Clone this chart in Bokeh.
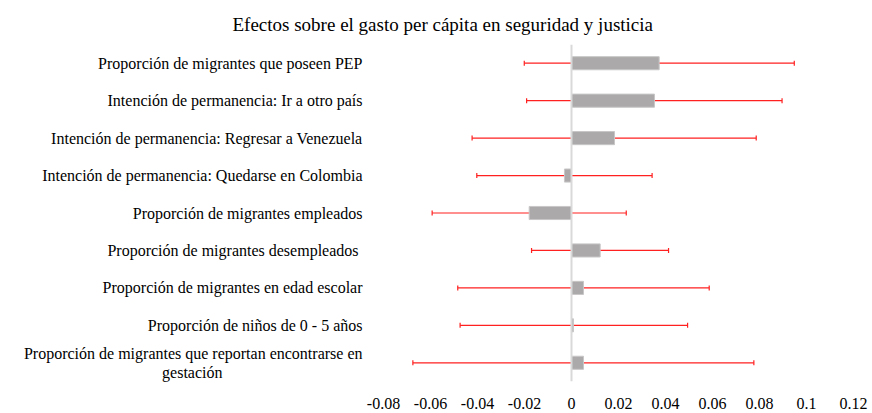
from bokeh.plotting import figure
from bokeh.models import ColumnDataSource, Whisker, Span, FixedTicker, TeeHead
from bokeh.embed import file_html
from bokeh.resources import INLINE

title_text = "Efectos sobre el gasto per cápita en seguridad y justicia"
categories = [
    "Proporción de migrantes que poseen PEP",
    "Intención de permanencia: Ir a otro país",
    "Intención de permanencia: Regresar a Venezuela",
    "Intención de permanencia: Quedarse en Colombia",
    "Proporción de migrantes empleados",
    "Proporción de migrantes  desempleados",
    "Proporción de migrantes en edad escolar",
    "Proporción de niños de 0 - 5 años",
    "Proporción de migrantes que reportan encontrarse en\ngestación",
]
coef = [0.0373, 0.0353, 0.0183, -0.0030, -0.0180, 0.0122, 0.0051, 0.0008, 0.0051]
lower = [-0.0201, -0.0191, -0.0423, -0.0403, -0.0593, -0.0170, -0.0484, -0.0474, -0.0675]
upper = [0.0948, 0.0896, 0.0786, 0.0343, 0.0233, 0.0413, 0.0586, 0.0494, 0.0776]
tick_values = [-0.08, -0.06, -0.04, -0.02, 0, 0.02, 0.04, 0.06, 0.08, 0.1, 0.12]
tick_labels = ["-0.08", "-0.06", "-0.04", "-0.02", "0", "0.02", "0.04", "0.06", "0.08", "0.1", "0.12"]

FONT = "Liberation Serif"
FS = "16px"
n = len(categories)
ypos = [n - i for i in range(n)]

# centre the second line of a wrapped label under the first (padding with no-break spaces)
def label_text(c):
    if "\n" in c:
        first, second = c.split("\n")
        return first + "\n" + second + "\u00a0" * 35
    return c

src = ColumnDataSource(dict(y=ypos, coef=coef, lower=lower, upper=upper))

p = figure(width=868, height=411, x_range=(-0.08, 0.12), y_range=(0.5, n + 0.5),
           output_backend="svg", toolbar_location=None,
           min_border_left=383, min_border_right=15, min_border_top=44, min_border_bottom=26)
p.outline_line_color = None
p.xgrid.visible = False
p.ygrid.visible = False

p.title.text = title_text
p.title.align = "left"
p.title.offset = -151
p.title.standoff = 20
p.title.text_font = FONT
p.title.text_font_size = "19px"
p.title.text_font_style = "normal"
p.title.text_color = "#000000"

ax = p.xaxis[0]
ax.ticker = FixedTicker(ticks=tick_values)
ax.major_label_overrides = {v: l for v, l in zip(tick_values, tick_labels)}
ax.axis_line_color = None
ax.major_tick_line_color = None
ax.minor_tick_line_color = None
ax.major_label_standoff = 10
ax.major_label_text_font = FONT
ax.major_label_text_font_size = FS
ax.major_label_text_color = "#000000"

yax = p.yaxis[0]
yax.ticker = FixedTicker(ticks=ypos)
yax.major_label_overrides = {y: label_text(c) for y, c in zip(ypos, categories)}
yax.axis_line_color = None
yax.major_tick_line_color = None
yax.minor_tick_line_color = None
yax.major_label_standoff = 15
yax.major_label_text_font = FONT
yax.major_label_text_font_size = FS
yax.major_label_text_color = "#000000"
yax.major_label_text_line_height = 1.1

p.hbar(y="y", height=0.35, left=0, right="coef", source=src,
       fill_color="#ABA9A9", line_color="#C8C6C6", line_width=1)

p.add_layout(Span(location=0, dimension="height", line_color="#D9D9D9", line_width=2))

w = Whisker(base="y", lower="lower", upper="upper", dimension="width", source=src,
            line_color="#FF2020", line_width=1.2,
            lower_head=TeeHead(size=5, line_color="#FF2020", line_width=1.2),
            upper_head=TeeHead(size=5, line_color="#FF2020", line_width=1.2))
p.add_layout(w)

open("out.html", "w").write(file_html(p, INLINE))
